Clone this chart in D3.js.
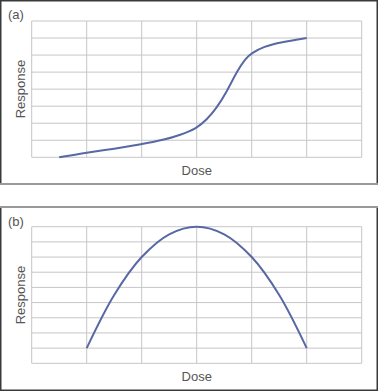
<!DOCTYPE html>
<html lang="en">
<head>
    <meta charset="UTF-8">
    <title>Dose Response</title>
    <script src="https://d3js.org/d3.v7.min.js"></script>
    <style>
        body { margin: 0; background: #fff; }
        text { font-family: "Liberation Sans", Arial, sans-serif; fill: #555; }
        .grid line { stroke: #c6c6c6; stroke-width: 1; }
        .curve { fill: none; stroke: #5868a4; stroke-width: 2; }
    </style>
</head>
<body>
    <svg id="chart" width="378" height="391"></svg>
    <script>
        // Panel (a): sigmoid dose-response
        const doseA = [0.5, 1, 1.5, 2, 2.4, 2.7, 3, 3.18, 3.36, 3.55, 3.73, 3.89, 4, 4.22, 4.53, 5];
        const respA = [0, 0.28, 0.5, 0.76, 1.02, 1.31, 1.7, 2.2, 2.88, 3.86, 5.04, 5.82, 6.12, 6.5, 6.76, 7];
        // Panel (b): bell-shaped dose-response
        const doseB = [1, 1.5, 2, 2.5, 3, 3.5, 4, 4.5, 5];
        const respB = [1, 4.5, 7, 8.5, 9, 8.5, 7, 4.5, 1];

        const panels = [
            { label: "(a)", top: 0, bottom: 184, plotTop: 21, plotBottom: 157.3, yMax: 8, dose: doseA, resp: respA, doseY: 175, respY: 89, curve: d3.curveBasis },
            { label: "(b)", top: 207, bottom: 390, plotTop: 226.7, plotBottom: 363.3, yMax: 9, dose: doseB, resp: respB, doseY: 381, respY: 295, curve: d3.curveCatmullRom.alpha(0.5) }
        ];

        const svg = d3.select("#chart");
        const left = 31.7, right = 361.7;

        panels.forEach((p, i) => {
            const x = d3.scaleLinear().domain([0, 6]).range([left, right]);
            const y = d3.scaleLinear().domain([0, p.yMax]).range([p.plotBottom, p.plotTop]);

            // frame: dark sides, gray separator edge
            const g = svg.append("g");
            const sepY = i === 0 ? p.bottom : p.top;
            const farY = i === 0 ? p.top + 0.75 : p.bottom + 0.25;
            g.append("path")
                .attr("d", `M0.75,${sepY} L0.75,${farY} L377.25,${farY} L377.25,${sepY}`)
                .attr("fill", "none").attr("stroke", "#3a3a3a").attr("stroke-width", 1.5);
            g.append("line")
                .attr("x1", 0).attr("x2", 378).attr("y1", sepY).attr("y2", sepY)
                .attr("stroke", "#999").attr("stroke-width", 2.2);

            // grid
            const grid = g.append("g").attr("class", "grid");
            grid.selectAll(".v").data(d3.range(0, 7)).enter().append("line")
                .attr("x1", d => x(d)).attr("x2", d => x(d))
                .attr("y1", p.plotTop).attr("y2", p.plotBottom);
            grid.selectAll(".h").data(d3.range(0, p.yMax + 1)).enter().append("line")
                .attr("x1", left).attr("x2", right)
                .attr("y1", d => y(d)).attr("y2", d => y(d));

            // curve
            const pts = p.dose.map((d, k) => [d, p.resp[k]]);
            g.append("path")
                .datum(pts)
                .attr("class", "curve")
                .attr("d", d3.line().x(d => x(d[0])).y(d => y(d[1])).curve(p.curve));

            // labels
            g.append("text").attr("x", 8).attr("y", p.top + 19)
                .attr("font-size", 13).text(p.label);
            g.append("text").attr("x", x(3)).attr("y", p.doseY)
                .attr("text-anchor", "middle").attr("font-size", 13).text("Dose");
            g.append("text")
                .attr("transform", `translate(25,${p.respY}) rotate(-90)`)
                .attr("text-anchor", "middle").attr("font-size", 13).text("Response");
        });
    </script>
</body>
</html>
